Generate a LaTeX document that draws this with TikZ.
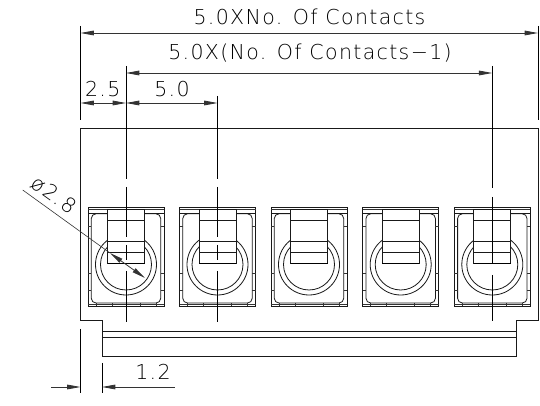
\documentclass[tikz,border=0pt]{standalone}
\usepackage{fontspec}
\setmainfont[LetterSpace=6.5]{DejaVu Sans ExtraLight}
\usetikzlibrary{arrows.meta}
\tikzset{
  outline/.style={draw=black!90, line width=0.6pt},
  thinline/.style={draw=black!80, line width=0.45pt},
  dimline/.style={draw=black!80, line width=0.6pt, {Triangle[length=10pt,width=3.5pt]}-{Triangle[length=10pt,width=3.5pt]}},
  dimleft/.style={draw=black!80, line width=0.6pt, {Triangle[length=10pt,width=3.5pt]}-},
  dimright/.style={draw=black!80, line width=0.6pt, -{Triangle[length=10pt,width=3.5pt]}},
  extline/.style={draw=black, line width=0.6pt},
  dimtext/.style={inner sep=0pt, anchor=base, font=\fontsize{15.4}{15.4}\selectfont, text=black}
}
\begin{document}
\begin{tikzpicture}[x=0.75pt,y=-0.75pt]
  \useasboundingbox (0,0) rectangle (540,406);

  % housing
  \draw[outline] (80.5,128) -- (538,128) -- (538,320.5) -- (516,320.5) -- (516,356) -- (102,356) -- (102,320.5) -- (80.5,320.5) -- cycle;
  \draw[outline] (102,331.5) -- (516,331.5);
  \draw[outline] (102,337.5) -- (516,337.5);

  % terminals
  \foreach \cx in {126,217.5,309,400.7,492.3} {
    \begin{scope}[shift={(\cx,0)}]
      \draw[outline] (-38,207.5) rectangle (38,306);
      \draw[thinline] (-38,209.5) -- (38,209.5);
      \draw[outline] (-38,213.8) -- (38,213.8);
      \draw[thinline] (-38,304) -- (38,304);
      \draw[outline, rounded corners=3.5pt] (-34.7,213.8) rectangle (34.7,303);
      \foreach \ty in {226,273,290.5} {
        \draw[thinline] (-38,\ty) -- (-34.7,\ty) (34.7,\ty) -- (38,\ty);
      }
      \foreach \tx in {-30,-14,14,30} {
        \draw[thinline] (\tx,303) -- (\tx,306);
      }
      \draw[outline] (0,264.5) circle[radius=30.5];
      \draw[outline] (0,264.5) circle[radius=25.5];
      \draw[outline, fill=white] (-18.5,209.5) rectangle (18.5,263.5);
      \draw[outline] (-18.5,220) -- (18.5,220);
      \draw[outline] (-18.5,241.5) -- (18.5,241.5);
      \draw[outline] (-18.5,252.5) -- (18.5,252.5);
      \draw[draw=black, line width=0.9pt] (-18.5,263.5) -- (18.5,263.5);
    \end{scope}
  }

  % centre lines
  \foreach \cx in {126,217.5} {
    \draw[extline] (\cx,96) -- (\cx,179);
    \draw[extline] (\cx,187) -- (\cx,237);
    \draw[extline] (\cx,245) -- (\cx,260);
    \draw[extline] (\cx,271) -- (\cx,322);
  }
  \draw[extline] (126,66) -- (126,96);
  \draw[extline] (492.3,66) -- (492.3,188);
  \draw[extline] (492.3,197) -- (492.3,263);
  \draw[extline] (492.3,275) -- (492.3,321);

  % extension lines
  \draw[extline] (80.5,26) -- (80.5,120);
  \draw[extline] (538,26) -- (538,120);
  \draw[extline] (80.5,329) -- (80.5,393);
  \draw[extline] (102,363) -- (102,393);

  % dimensions
  \coordinate (wideL) at (80.5,33);
  \coordinate (wideR) at (538,33);
  \coordinate (pitchL) at (126,73);
  \coordinate (pitchR) at (492.3,73);
  \coordinate (halfA) at (80.5,103);
  \coordinate (halfB) at (126,103);
  \coordinate (oneB) at (217.5,103);
  \coordinate (lipA) at (51,387);
  \coordinate (lipB) at (80.5,387);
  \coordinate (lipC) at (102,387);
  \coordinate (lipD) at (175,387);
  \coordinate (diaS) at (22.7,190);
  \coordinate (diaA) at (110,253);
  \coordinate (diaB) at (145,278);
  \draw[dimline] (wideL) -- (wideR);
  \draw[dimline] (pitchL) -- (pitchR);
  \draw[dimline] (halfA) -- (halfB);
  \draw[dimline] (halfB) -- (oneB);
  \draw[dimright] (lipA) -- (lipB);
  \draw[dimleft] (lipC) -- (lipD);
  \draw[thinline] (diaS) -- (diaA);
  \draw[dimline] (diaA) -- (diaB);

  % labels
  \node[dimtext] (wideText) at (309.5,25) {5.0XNo. Of Contacts};
  \node[dimtext] (pitchText) at (310,60) {5.0X(No. Of Contacts−1)};
  \node[dimtext] (halfText) at (102.7,96.7) {2.5};
  \node[dimtext] (oneText) at (172,96.7) {5.0};
  \node[dimtext] (lipText) at (153,380) {1.2};
  \node[dimtext, anchor=center, rotate=-35.5] (diaText) at (54,195) {ø2.8};
\end{tikzpicture}
\end{document}
